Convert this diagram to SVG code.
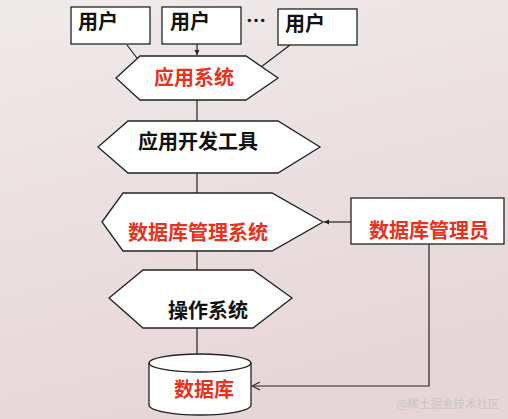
<svg xmlns="http://www.w3.org/2000/svg" width="508" height="419" viewBox="0 0 508 419">
<defs>
<linearGradient id="bg" x1="0" y1="0" x2="0.3" y2="1">
<stop offset="0" stop-color="#efeaea"/>
<stop offset="1" stop-color="#e7d6d8"/>
</linearGradient>
<marker id="arr" markerWidth="10" markerHeight="10" refX="9" refY="5" orient="auto" markerUnits="userSpaceOnUse">
<path d="M1,1 L9,5 L1,9" fill="none" stroke="#222" stroke-width="1.1"/>
</marker>
<marker id="tiny" markerWidth="6" markerHeight="6" refX="5" refY="3" orient="auto" markerUnits="userSpaceOnUse">
<path d="M0,0.5 L5,3 L0,5.5 z" fill="#222"/>
</marker>
</defs>
<style>
.shape{fill:#fff;stroke:#222;stroke-width:1.3}
.ln{fill:none;stroke:#222;stroke-width:1.2}
text{font-family:"Noto Sans CJK SC","Noto Sans",sans-serif;font-size:20px;font-weight:bold;text-anchor:middle;dominant-baseline:central}
.red{fill:#e8321e}
.blk{fill:#111}
</style>
<rect width="508" height="419" fill="url(#bg)"/>

<g id="connectors">
<line class="ln" x1="127" y1="45" x2="140" y2="62"/>
<line class="ln" x1="197" y1="44" x2="197" y2="55" marker-end="url(#tiny)"/>
<line class="ln" x1="290" y1="45" x2="261" y2="67"/>
<line class="ln" x1="197" y1="100" x2="197" y2="121"/>
<line class="ln" x1="197" y1="173" x2="197" y2="193"/>
<line class="ln" x1="197" y1="251" x2="197" y2="270"/>
<line class="ln" x1="197" y1="328" x2="197" y2="354"/>
<line class="ln" x1="351" y1="222" x2="324" y2="222" marker-end="url(#tiny)"/>
<polyline class="ln" points="429,244 429,386 252,386" marker-end="url(#arr)"/>
</g>

<g id="user1">
<rect class="shape" x="71" y="7" width="79" height="37"/>
<text class="blk" x="98" y="20">用户</text>
</g>
<g id="user2">
<rect class="shape" x="162" y="7" width="79" height="37"/>
<text class="blk" x="190" y="20">用户</text>
</g>
<text class="blk" x="256" y="19">…</text>
<g id="user3">
<rect class="shape" x="278" y="9" width="79" height="36"/>
<text class="blk" x="305" y="22">用户</text>
</g>

<g id="app">
<polygon class="shape" points="116,78 140,56 246,56 278,78 246,100 140,100"/>
<text class="red" x="194" y="76">应用系统</text>
</g>

<g id="devtools">
<polygon class="shape" points="98,147 128,121 278,121 320,147 278,173 128,173"/>
<text class="blk" x="198" y="140">应用开发工具</text>
</g>

<g id="dbms">
<polygon class="shape" points="102,222 123,193 272,193 323,222 272,251 123,251"/>
<text class="red" x="198" y="231">数据库管理系统</text>
</g>

<g id="os">
<polygon class="shape" points="109,298 143,270 253,270 292,298 253,328 143,328"/>
<text class="blk" x="208" y="309">操作系统</text>
</g>

<g id="db">
<path class="shape" d="M149,363 L149,405 A51,10 0 0 0 251,405 L251,363"/>
<ellipse class="shape" cx="200" cy="363" rx="51" ry="9"/>
<text class="red" x="204" y="388">数据库</text>
</g>

<g id="dba">
<rect class="shape" x="351" y="198" width="153" height="46"/>
<text class="red" x="429" y="229">数据库管理员</text>
</g>

<text x="448" y="403" style="font-size:11.5px;font-weight:normal;fill:#c9c3c4">@稀土掘金技术社区</text>
</svg>
